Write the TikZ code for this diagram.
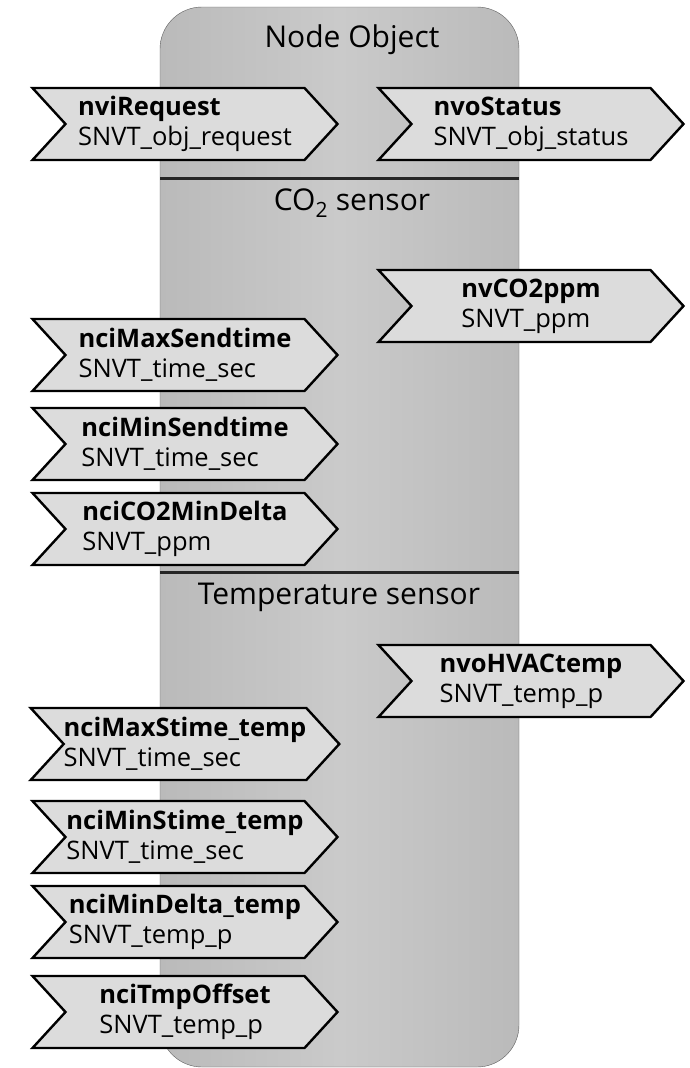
\documentclass[tikz,border=0pt]{standalone}
\usepackage{fontspec}
\setmainfont{Open Sans}
\usetikzlibrary{shapes.symbols}
\definecolor{lonbox}{RGB}{186,186,186}
\definecolor{lonboxlight}{RGB}{202,202,202}
\definecolor{lonnv}{RGB}{220,220,220}
\definecolor{lonedge}{RGB}{95,95,95}

\tikzset{
  nvar/.style={signal, signal to=east, signal from=west, signal pointer angle=95,
    draw=black, line width=2.4pt, fill=lonnv, minimum width=305pt, minimum height=72pt,
    align=left, inner sep=0pt, font=\fontsize{25.5}{30}\selectfont},
  objtitle/.style={font=\fontsize{30}{34}\selectfont}
}

\begin{document}
\begin{tikzpicture}[x=1pt,y=-1pt]
\useasboundingbox (0,0) rectangle (690,1068);

% === Node object (fondo) ===
\shade[left color=lonbox, right color=lonbox, middle color=lonboxlight,
    draw=lonedge, rounded corners=42pt] (160,7) rectangle (519,1067);

% Separadores
\draw[line width=3pt, black!85] (160,178) -- (519,178);
\draw[line width=3pt, black!85] (160,572) -- (519,572);

% === Titulos de bloque ===
\node[objtitle] (tnode) at (352,40) {Node Object};
\node[objtitle] (tco) at (352,203) {CO\textsubscript{2} sensor};
\node[objtitle] (ttemp) at (339,597) {Temperature sensor};

% === Node Object ===
\node[nvar] (nviRequest) at (185,124) {\textbf{nviRequest}\\SNVT\_obj\_request};
\node[nvar] (nvoStatus) at (531,124) {\textbf{nvoStatus}\\SNVT\_obj\_status};

% === CO2 sensor ===
\node[nvar] (nvCO2ppm) at (531,306) {\textbf{nvCO2ppm}\\SNVT\_ppm};
\node[nvar] (nciMaxSendtime) at (185,355) {\textbf{nciMaxSendtime}\\SNVT\_time\_sec};
\node[nvar] (nciMinSendtime) at (185,444) {\textbf{nciMinSendtime}\\SNVT\_time\_sec};
\node[nvar] (nciCO2MinDelta) at (185,529) {\textbf{nciCO2MinDelta}\\SNVT\_ppm};

% === Temperature sensor ===
\node[nvar] (nvoHVACtemp) at (531,681) {\textbf{nvoHVACtemp}\\SNVT\_temp\_p};
\node[nvar] (nciMaxStime) at (185,744) {\textbf{nciMaxStime\_temp}\\SNVT\_time\_sec};
\node[nvar] (nciMinStime) at (185,837) {\textbf{nciMinStime\_temp}\\SNVT\_time\_sec};
\node[nvar] (nciMinDelta) at (185,922) {\textbf{nciMinDelta\_temp}\\SNVT\_temp\_p};
\node[nvar] (nciTmpOffset) at (185,1012) {\textbf{nciTmpOffset}\\SNVT\_temp\_p};

\end{tikzpicture}
\end{document}
